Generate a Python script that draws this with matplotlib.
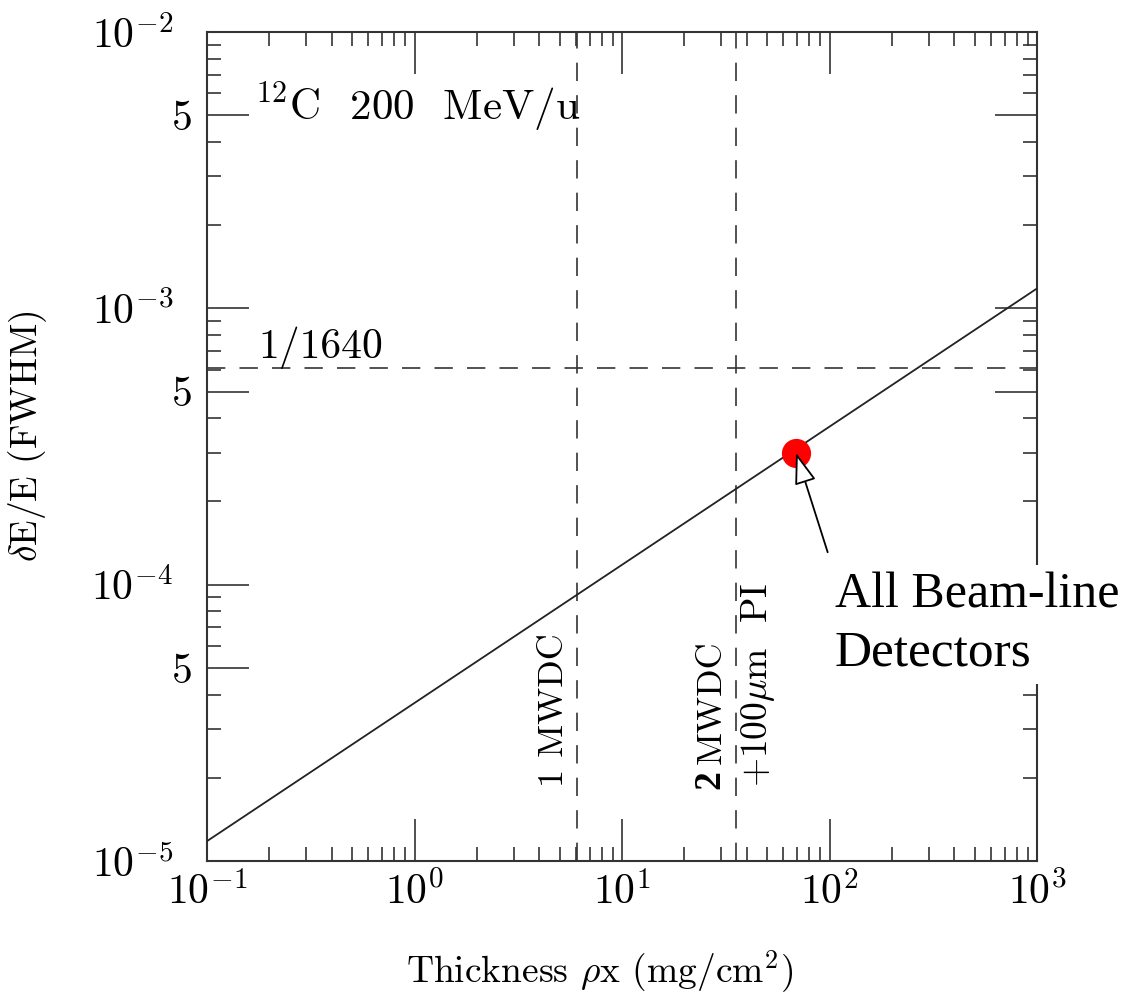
import numpy as np
import matplotlib.pyplot as plt
from matplotlib.ticker import FixedLocator, NullFormatter
from matplotlib.transforms import ScaledTranslation

plt.rcParams['font.family'] = 'cmr10'
plt.rcParams['mathtext.fontset'] = 'cm'
plt.rcParams['axes.unicode_minus'] = False
plt.rcParams['axes.formatter.use_mathtext'] = True

# energy resolution vs. thickness for 12C at 200 MeV/u
thickness = [0.1, 1000]          # mg/cm^2
resolution = [1.18e-5, 1.18e-3]  # dE/E (FWHM)

mwdc_1 = 6.1           # 1 MWDC
mwdc_2_pi = 35.5       # 2 MWDC + 100 um PI
limit = 1 / 1640       # required resolution
beamline_x = 69.0      # all beam-line detectors
beamline_y = 3.0e-4

xticks = [1e-1, 1e0, 1e1, 1e2, 1e3]
xticklabels = [r'$10^{-1}$', r'$10^{0}$', r'$10^{1}$', r'$10^{2}$', r'$10^{3}$']
yticks = [1e-5, 5e-5, 1e-4, 5e-4, 1e-3, 5e-3, 1e-2]
yticklabels = [r'$10^{-5}$', '5', r'$10^{-4}$', '5', r'$10^{-3}$', '5', r'$10^{-2}$']

fig = plt.figure(figsize=(11.25, 9.94), dpi=100)
ax = fig.add_axes([207 / 1125, 1 - 861 / 994, (1037 - 207) / 1125, (861 - 32) / 994])

ax.set_xscale('log')
ax.set_yscale('log')
ax.set_xlim(1e-1, 1e3)
ax.set_ylim(1e-5, 1e-2)

dash = (0, (11, 8.5))
ax.plot(thickness, resolution, color='#222222', lw=1.3, zorder=3)
ax.axvline(mwdc_1, color='#333333', lw=1.2, ls=dash)
ax.axvline(mwdc_2_pi, color='#333333', lw=1.2, ls=dash)
ax.axhline(limit, color='#333333', lw=1.2, ls=dash)

ax.plot([beamline_x], [beamline_y], 'o', color='red', ms=20, zorder=4)
ax.annotate('', xy=(beamline_x, beamline_y), xytext=(98, 1.31e-4),
            arrowprops=dict(arrowstyle='-|>,head_length=1.3,head_width=0.45',
                            fc='white', ec='black', lw=1.3,
                            shrinkA=0, shrinkB=0, mutation_scale=15),
            zorder=5)

# ticks
ax.xaxis.set_major_locator(FixedLocator(xticks))
ax.set_xticklabels(xticklabels)
xminor = [m * 10.0 ** e for e in range(-1, 3) for m in range(2, 10)]
ax.xaxis.set_minor_locator(FixedLocator(xminor))
ax.xaxis.set_minor_formatter(NullFormatter())

ax.yaxis.set_major_locator(FixedLocator(yticks))
ax.set_yticklabels(yticklabels)
yminor = [m * 10.0 ** e for e in range(-5, -2) for m in (2, 3, 4, 6, 7, 8, 9)]
ax.yaxis.set_minor_locator(FixedLocator(yminor))
ax.yaxis.set_minor_formatter(NullFormatter())

ax.tick_params(which='both', direction='in', top=True, right=True,
               color='#333333', width=1.2)
ax.tick_params(which='major', length=30, labelsize=30, pad=8)
ax.tick_params(axis='y', which='major', pad=10)
ax.tick_params(which='minor', length=10)
for s in ax.spines.values():
    s.set_linewidth(1.5)
    s.set_color('#333333')

ax.set_xlabel(r'Thickness $\rho$x (mg/cm$^2$)', fontsize=27)
ax.set_ylabel(r'$\delta$E/E (FWHM)', fontsize=27)
ax.xaxis.set_label_coords(0.473, -0.105)
ax.yaxis.set_label_coords(-0.19, 0.512)

# labels inside the frame
ax.text(0.17, 4.8e-3, r'$^{12}$C  200  MeV/u', fontsize=31, va='baseline')
ax.text(0.176, 6.6e-4, '1/1640', fontsize=30, va='baseline')
ax.text(4.7, 1.85e-5, '1 MWDC', fontsize=26, rotation=90, ha='center', va='bottom')
ax.text(27.0, 2.25e-5, 'MWDC', fontsize=26, rotation=90, ha='center', va='bottom')
ax.text(26.6, 1.82e-5, '2', fontsize=27, rotation=90, ha='center', va='bottom',
        family='Liberation Serif', weight='bold')
ax.text(45.0, 1.85e-5, r'+100$\mu$m  PI', fontsize=27, rotation=90, ha='center', va='bottom')

fig.text(835 / 1125, 1 - 608 / 994, 'All Beam-line', fontsize=36,
         family='Liberation Serif', va='baseline', zorder=6,
         bbox=dict(boxstyle='square,pad=0.15', fc='white', ec='none'))
fig.text(835 / 1125, 1 - 665 / 994, 'Detectors', fontsize=37,
         family='Liberation Serif', va='baseline', zorder=6,
         bbox=dict(boxstyle='square,pad=0.15', fc='white', ec='none'))

# decade labels sit further from the axis than the "5" labels
for tick, lab in zip(ax.yaxis.get_major_ticks(), yticklabels):
    if lab.startswith('$10'):
        tick.label1.set_transform(tick.label1.get_transform()
                                  + ScaledTranslation(-0.2, 0, fig.dpi_scale_trans))

plt.savefig('out.png', dpi=100)
